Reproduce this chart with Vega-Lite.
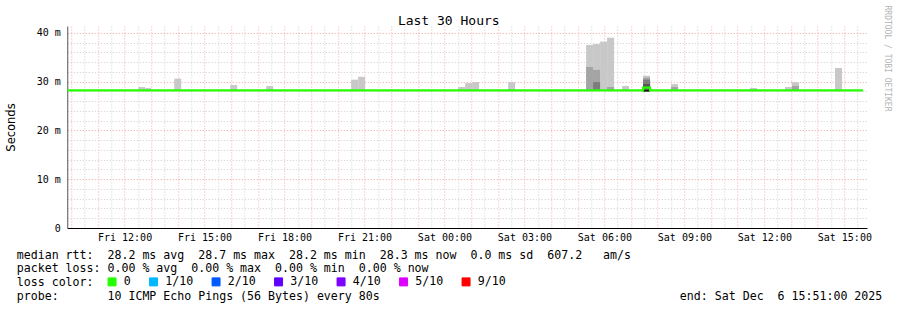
{
  "width": 897,
  "height": 310,
  "autosize": {"type": "fit", "contains": "padding"},
  "padding": {"left": 5.25, "top": 5, "right": 7, "bottom": 8},
  "background": "white",
  "config": {"view": {"stroke": null}},
  "datasets": {
    "smoke": [
      {"t0":"2025-12-05T12:30:45Z","t1":"2025-12-05T12:46:30Z","lo":28.1,"hi":28.9,"shade":"l1"},
      {"t0":"2025-12-05T12:46:30Z","t1":"2025-12-05T13:00:00Z","lo":28.1,"hi":28.7,"shade":"l1"},
      {"t0":"2025-12-05T13:51:45Z","t1":"2025-12-05T14:07:30Z","lo":28.1,"hi":30.6,"shade":"l1"},
      {"t0":"2025-12-05T15:57:45Z","t1":"2025-12-05T16:13:30Z","lo":28.1,"hi":29.3,"shade":"l1"},
      {"t0":"2025-12-05T17:18:45Z","t1":"2025-12-05T17:34:30Z","lo":28.1,"hi":29.1,"shade":"l1"},
      {"t0":"2025-12-05T20:30:00Z","t1":"2025-12-05T20:45:45Z","lo":28.1,"hi":30.4,"shade":"l1"},
      {"t0":"2025-12-05T20:45:45Z","t1":"2025-12-05T21:01:30Z","lo":28.1,"hi":31.0,"shade":"l1"},
      {"t0":"2025-12-06T00:30:45Z","t1":"2025-12-06T00:46:30Z","lo":28.1,"hi":28.9,"shade":"l1"},
      {"t0":"2025-12-06T00:46:30Z","t1":"2025-12-06T01:02:15Z","lo":28.1,"hi":29.7,"shade":"l1"},
      {"t0":"2025-12-06T01:02:15Z","t1":"2025-12-06T01:18:00Z","lo":28.1,"hi":29.9,"shade":"l1"},
      {"t0":"2025-12-06T02:23:15Z","t1":"2025-12-06T02:39:00Z","lo":28.1,"hi":29.9,"shade":"l1"},
      {"t0":"2025-12-06T05:18:45Z","t1":"2025-12-06T05:34:30Z","lo":28.1,"hi":37.5,"shade":"l1"},
      {"t0":"2025-12-06T05:34:30Z","t1":"2025-12-06T05:50:15Z","lo":28.1,"hi":37.7,"shade":"l1"},
      {"t0":"2025-12-06T05:50:15Z","t1":"2025-12-06T06:06:00Z","lo":28.1,"hi":38.2,"shade":"l1"},
      {"t0":"2025-12-06T06:06:00Z","t1":"2025-12-06T06:21:45Z","lo":28.1,"hi":39.0,"shade":"l1"},
      {"t0":"2025-12-06T06:39:45Z","t1":"2025-12-06T06:55:30Z","lo":28.1,"hi":29.1,"shade":"l1"},
      {"t0":"2025-12-06T07:27:00Z","t1":"2025-12-06T07:42:45Z","lo":28.1,"hi":31.2,"shade":"l1"},
      {"t0":"2025-12-06T08:30:00Z","t1":"2025-12-06T08:45:45Z","lo":28.1,"hi":29.5,"shade":"l1"},
      {"t0":"2025-12-06T11:27:45Z","t1":"2025-12-06T11:43:30Z","lo":28.1,"hi":28.7,"shade":"l1"},
      {"t0":"2025-12-06T12:46:30Z","t1":"2025-12-06T13:02:15Z","lo":28.1,"hi":28.9,"shade":"l1"},
      {"t0":"2025-12-06T13:02:15Z","t1":"2025-12-06T13:18:00Z","lo":28.1,"hi":29.9,"shade":"l1"},
      {"t0":"2025-12-06T14:39:00Z","t1":"2025-12-06T14:54:45Z","lo":28.1,"hi":32.8,"shade":"l1"},
      {"t0":"2025-12-06T05:18:45Z","t1":"2025-12-06T05:34:30Z","lo":28.1,"hi":33.0,"shade":"l2"},
      {"t0":"2025-12-06T05:34:30Z","t1":"2025-12-06T05:50:15Z","lo":28.1,"hi":32.4,"shade":"l2"},
      {"t0":"2025-12-06T06:06:00Z","t1":"2025-12-06T06:21:45Z","lo":28.1,"hi":28.9,"shade":"l2"},
      {"t0":"2025-12-06T07:27:00Z","t1":"2025-12-06T07:42:45Z","lo":28.1,"hi":30.8,"shade":"l2"},
      {"t0":"2025-12-06T08:30:00Z","t1":"2025-12-06T08:45:45Z","lo":28.1,"hi":28.9,"shade":"l2"},
      {"t0":"2025-12-06T13:02:15Z","t1":"2025-12-06T13:18:00Z","lo":28.1,"hi":29.1,"shade":"l2"},
      {"t0":"2025-12-06T05:34:30Z","t1":"2025-12-06T05:50:15Z","lo":28.1,"hi":29.9,"shade":"l3"},
      {"t0":"2025-12-06T07:27:00Z","t1":"2025-12-06T07:42:45Z","lo":28.1,"hi":30.4,"shade":"l3"},
      {"t0":"2025-12-06T07:27:00Z","t1":"2025-12-06T07:42:45Z","lo":28.1,"hi":29.5,"shade":"l4"},
      {"t0":"2025-12-06T07:26:00Z","t1":"2025-12-06T07:42:45Z","lo":27.95,"hi":28.25,"shade":"l5"}
    ],
    "median": [
      {"t":"2025-12-05T09:51:00Z","rtt":28.2,"loss":"0"},
      {"t":"2025-12-06T07:27:00Z","rtt":28.75,"loss":"0"},
      {"t":"2025-12-06T07:42:45Z","rtt":28.2,"loss":"0"},
      {"t":"2025-12-06T15:42:00Z","rtt":28.2,"loss":"0"}
    ]
  },
  "layer": [
    {
      "data": {"name": "smoke"},
      "mark": {"type": "rect"},
      "encoding": {
        "x": {
          "field": "t0", "type": "temporal",
          "scale": {"type": "utc", "nice": false, "domain": [1764928260000, 1765036260000]},
          "axis": {
            "orient": "bottom",
            "tickCount": 60,
            "grid": true,
            "gridDash": [1, 2],
            "gridWidth": 1,
            "gridColor": {"condition": {"test": "utcminutes(datum.value) == 0", "value": "#f2a3a3"}, "value": "#cdcdcd"},
            "ticks": false,
            "domain": true,
            "domainColor": "black",
            "domainWidth": 1,
            "labelExpr": "(utchours(datum.value) % 3 == 0 && utcminutes(datum.value) == 0) ? utcFormat(datum.value, '%a %H:%M') : ''",
            "labelFont": "DejaVu Sans Mono",
            "labelFontSize": 10,
            "labelColor": "black",
            "labelPadding": 4,
            "labelOverlap": false,
            "labelFlush": false,
            "labelBound": false,
            "labelBaseline": "top",
            "title": ["median rtt:\u00a0\u00a028.2\u00a0ms\u00a0avg\u00a0\u00a028.7\u00a0ms\u00a0max\u00a0\u00a028.2\u00a0ms\u00a0min\u00a0\u00a028.3\u00a0ms\u00a0now\u00a0\u00a00.0\u00a0ms\u00a0sd\u00a0\u00a0607.2\u00a0\u00a0\u00a0am/s", "packet loss:\u00a00.00\u00a0%\u00a0avg\u00a0\u00a00.00\u00a0%\u00a0max\u00a0\u00a00.00\u00a0%\u00a0min\u00a0\u00a00.00\u00a0%\u00a0now", "loss color:", "probe:\u00a0\u00a0\u00a0\u00a0\u00a0\u00a0\u00a010\u00a0ICMP\u00a0Echo\u00a0Pings\u00a0(56\u00a0Bytes)\u00a0every\u00a080s\u00a0\u00a0\u00a0\u00a0\u00a0\u00a0\u00a0\u00a0\u00a0\u00a0\u00a0\u00a0\u00a0\u00a0\u00a0\u00a0\u00a0\u00a0\u00a0\u00a0\u00a0\u00a0\u00a0\u00a0\u00a0\u00a0\u00a0\u00a0\u00a0\u00a0\u00a0\u00a0\u00a0\u00a0\u00a0\u00a0\u00a0\u00a0\u00a0\u00a0\u00a0\u00a0\u00a0end:\u00a0Sat\u00a0Dec\u00a0\u00a06\u00a015:51:00\u00a02025"],
            "titleFont": "DejaVu Sans Mono",
            "titleFontSize": 11.6,
            "titleFontWeight": "normal",
            "titleColor": "black",
            "titleAlign": "left",
            "titleBaseline": "alphabetic",
            "titleLineHeight": 13.8,
            "titleX": -51,
            "titleY": 30
          }
        },
        "x2": {"field": "t1"},
        "y": {
          "field": "hi", "type": "quantitative",
          "scale": {"domain": [0, 41.4], "nice": false, "zero": false},
          "axis": {
            "orient": "left",
            "values": [0, 2, 4, 6, 8, 10, 12, 14, 16, 18, 20, 22, 24, 26, 28, 30, 32, 34, 36, 38, 40],
            "grid": true,
            "gridDash": [1, 2],
            "gridWidth": 1,
            "gridColor": {"condition": {"test": "datum.value % 10 == 0", "value": "#f2a3a3"}, "value": "#cdcdcd"},
            "ticks": false,
            "domain": true,
            "domainColor": "#555555",
            "labelExpr": "datum.value % 10 != 0 ? '' : (datum.value == 0 ? '0' : datum.value + '\u00a0m')",
            "labelFont": "DejaVu Sans Mono",
            "labelFontSize": 10,
            "labelColor": "black",
            "labelPadding": 7,
            "labelOverlap": false,
            "labelFlush": false,
            "labelBound": false,
            "title": "Seconds",
            "titleFont": "DejaVu Sans",
            "titleFontSize": 11.5,
            "titleFontWeight": "normal",
            "titleColor": "black",
            "titleAngle": 270,
            "titleAlign": "center",
            "titleBaseline": "middle",
            "titleX": -56,
            "titleY": 101
          }
        },
        "y2": {"field": "lo"},
        "fill": {
          "field": "shade", "type": "nominal",
          "scale": {"domain": ["l1", "l2", "l3", "l4", "l5"], "range": ["#c8c8c8", "#a4a4a4", "#7c7c7c", "#575757", "#000000"]},
          "legend": null
        }
      }
    },
    {
      "data": {"name": "median"},
      "mark": {"type": "line", "interpolate": "step-after", "strokeWidth": 2.2},
      "encoding": {
        "x": {
          "field": "t", "type": "temporal",
          "axis": {
            "orient": "top",
            "grid": false, "ticks": false, "labels": false, "domain": false,
            "title": "Last 30 Hours",
            "titleFont": "DejaVu Sans Mono",
            "titleFontSize": 13,
            "titleFontWeight": "normal",
            "titleColor": "black",
            "titleAlign": "center",
            "titleBaseline": "alphabetic",
            "titleX": 381,
            "titleY": -2
          }
        },
        "y": {
          "field": "rtt", "type": "quantitative",
          "axis": {
            "orient": "right",
            "grid": false, "ticks": false, "labels": false, "domain": false,
            "title": "RRDTOOL / TOBI OETIKER",
            "titleFont": "DejaVu Sans Mono",
            "titleFontSize": 8,
            "titleFontWeight": "normal",
            "titleColor": "#b4b4b4",
            "titleAngle": 90,
            "titleAlign": "left",
            "titleBaseline": "middle",
            "titleX": 19,
            "titleY": -21
          }
        },
        "color": {
          "field": "loss", "type": "nominal",
          "scale": {"domain": ["0", "1/10", "2/10", "3/10", "4/10", "5/10", "9/10"], "range": ["#26ff00", "#00b8ff", "#0059ff", "#5e00ff", "#7e00ff", "#dd00ff", "#ff0000"]},
          "legend": {
            "orient": "none",
            "legendX": 39,
            "legendY": 250,
            "direction": "horizontal",
            "title": null,
            "padding": 0,
            "symbolType": "square",
            "symbolSize": 64,
            "symbolStrokeWidth": 1,
            "symbolStrokeColor": "black",
            "symbolOpacity": 1,
            "labelFont": "DejaVu Sans Mono",
            "labelFontSize": 11.6,
            "labelColor": "black",
            "labelOffset": 6,
            "columnPadding": 15.5,
            "encode": {"symbols": {"update": {"fill": {"scale": "color", "field": "value"}, "stroke": {"value": "black"}, "strokeWidth": {"value": 1}}}}
          }
        }
      }
    }
  ],
  "resolve": {"axis": {"x": "independent", "y": "independent"}}
}
